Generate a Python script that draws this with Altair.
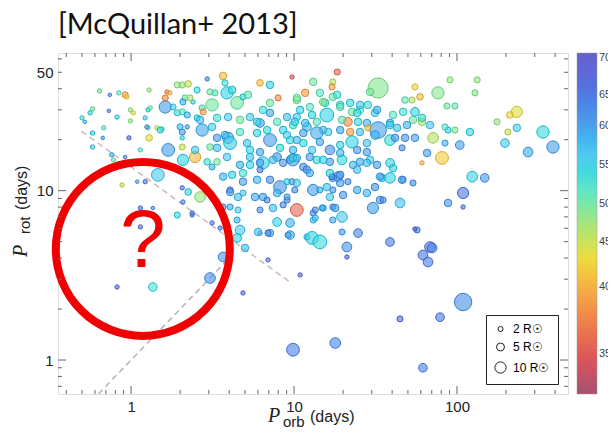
import altair as alt
import numpy as np
import pandas as pd

# ---------------- data ----------------
porb = [
    0.64, 0.74, 0.84, 0.92, 0.94, 0.58, 0.56, 0.50, 0.52, 0.73,
    0.82, 0.99, 1.03, 0.68, 0.58, 0.58, 0.67, 0.99, 0.97, 1.14,
    1.29, 1.27, 1.27, 1.44, 1.55, 1.29, 0.76, 0.78, 0.92, 1.01,
    1.92, 2.24, 1.66, 1.73, 2.14, 2.40, 1.62, 1.81, 2.06, 2.21,
    2.54, 2.73, 2.77, 3.14, 3.67, 3.77, 3.88, 4.47, 3.27, 3.05,
    2.54, 2.21, 2.06, 2.73, 2.65, 2.06, 1.69, 2.06, 2.47, 2.08,
    3.05, 3.37, 3.94, 2.93, 3.14, 1.46, 1.22, 1.09, 0.88, 2.24,
    2.65, 1.92, 2.37, 3.14, 1.14, 1.36, 3.67, 4.86, 5.37, 6.18,
    7.12, 7.98, 7.12, 6.45, 6.18, 7.12, 8.57, 9.72, 10.4, 10.4,
    12.0, 5.37, 6.45, 7.87, 9.45, 11.4, 4.86, 6.18, 8.2, 5.93,
    4.05, 4.53, 6.45, 9.06, 10.4, 7.87, 9.45, 6.18, 7.12, 9.45,
    12.0, 4.66, 4.47, 4.05, 4.53, 3.62, 18.4, 13.1, 17.3, 17.1,
    32.8, 29.3, 11.7, 10.4, 14.4, 17.3, 15.5, 55.2, 59.3, 76.4,
    90.6, 133, 129, 48.0, 53.0, 86.8, 97.2, 176, 233, 211,
    205, 233, 337, 388, 273, 197, 120, 104, 88.1, 97.2,
    71.3, 65.5, 80.9, 61.0, 53.7, 61.0, 55.2, 46.7, 40.5, 38.8,
    42.9, 32.8, 31.4, 38.8, 48.0, 55.2, 46.0, 40.5, 46.7, 53.7,
    34.7, 29.3, 28.0, 24.4, 22.7, 19.7, 23.0, 25.4, 18.6, 17.3,
    21.4, 19.7, 24.7, 28.0, 22.7, 25.4, 19.2, 22.1, 28.4, 31.4,
    15.9, 13.8, 12.9, 15.1, 13.8, 11.4, 9.45, 9.86, 9.86, 9.86,
    12.9, 13.8, 12.0, 16.6, 16.6, 19.2, 13.1, 10.1, 9.06, 17.1,
    17.3, 14.4, 16.6, 30.5, 33.7, 44.7, 31.4, 24.4, 88.1, 109,
    109, 124, 148, 13.1, 15.1, 17.3, 13.1, 19.7, 17.3, 12.9,
    14.4, 19.7, 24.7, 21.1, 38.8, 56.9, 68.3, 9.86, 17.9, 61.8,
    109, 78.7, 44.7, 10.9, 21.1, 61.8, 70.3, 66.4, 55.2,
    0.82, 1.36, 3.05, 3.67, 4.86, 6.92, 5.0, 4.47, 1.14,
    1.62, 2.06, 2.93, 4.17, 5.22, 1.92, 2.08, 2.30, 3.37, 3.94,
    4.66, 5.93, 7.12, 7.87, 9.06, 10.1, 3.14, 3.77, 4.05, 5.15,
    4.66, 5.93, 6.83, 9.06, 10.4, 2.0, 2.47, 3.37, 5.37, 6.18,
    8.2, 1.22, 1.31, 1.25, 1.51, 18.4, 15.1, 19.2, 25.4, 32.3,
    24.4, 12.5, 10.9, 11.7, 16.2, 19.2, 22.1, 25.4, 28.4, 38.8,
    61.0, 68.3, 49.3, 41.7, 28.0, 19.2, 14.4, 11.4, 84.4, 84.4,
    2.06, 2.08, 2.37, 3.52, 3.37, 3.88, 4.66, 5.37, 6.18, 7.43,
    8.57, 9.86, 3.67, 4.17, 4.86, 7.12, 9.72, 4.05, 4.86, 5.76,
    6.83, 7.87, 9.06, 6.18, 7.43, 8.57, 6.01, 6.92, 9.19, 10.4,
    12.5, 15.1, 28.0, 32.3, 38.8, 12.5, 16.6, 19.2, 24.4, 33.7,
    38.8, 46.0, 10.4, 15.9, 19.2, 21.4, 20.0, 28.0, 35.2, 13.5,
    14.9, 17.9, 13.5,
]
prot = [
    38.8, 36.8, 37.8, 36.8, 35.8, 30.4, 28.8, 26.9, 25.5, 29.6,
    27.2, 30.0, 28.8, 23.5, 21.9, 18.1, 20.5, 25.8, 20.5, 17.4,
    39.3, 30.0, 23.5, 23.5, 23.1, 20.5, 16.3, 15.2, 15.8, 14.2,
    42.1, 42.7, 38.3, 37.8, 35.3, 33.4, 31.2, 31.2, 29.2, 28.0,
    26.9, 30.8, 29.2, 32.1, 47.6, 43.3, 37.8, 33.0, 37.8, 38.3,
    39.3, 23.8, 22.2, 22.8, 26.2, 20.5, 17.4, 18.1, 15.8, 15.2,
    18.1, 20.5, 20.5, 14.8, 13.8, 12.4, 11.3, 11.3, 10.8, 9.83,
    9.18, 7.18, 7.18, 6.45, 7.90, 7.90, 8.01, 35.8, 27.2, 43.3,
    42.1, 35.3, 33.0, 30.0, 25.1, 19.9, 22.8, 46.9, 34.3, 27.2,
    23.8, 15.8, 14.6, 15.8, 15.2, 13.8, 12.7, 13.3, 10.5, 11.6,
    10.1, 9.18, 9.18, 8.81, 7.69, 6.53, 6.45, 5.62, 5.62, 5.47,
    5.33, 5.86, 6.71, 8.01, 7.69, 7.69, 50.2, 43.9, 43.9, 41.0,
    40.4, 38.3, 37.8, 35.3, 37.8, 35.8, 33.0, 41.0, 35.8, 37.8,
    45.1, 45.1, 37.8, 34.3, 34.3, 31.6, 31.6, 25.5, 29.2, 28.0,
    22.2, 23.5, 22.2, 18.1, 16.9, 19.1, 22.2, 18.6, 22.8, 22.8,
    20.5, 16.7, 15.6, 14.6, 26.2, 25.5, 29.2, 29.2, 28.0, 25.1,
    23.5, 22.8, 21.3, 19.9, 20.5, 20.5, 17.9, 13.6, 11.6, 11.1,
    11.9, 15.2, 16.9, 17.4, 19.4, 15.2, 14.2, 14.8, 12.1, 11.9,
    25.5, 26.2, 25.5, 25.1, 29.2, 30.0, 32.1, 33.0, 32.1, 28.8,
    28.0, 25.5, 28.0, 22.8, 21.9, 21.9, 19.9, 24.4, 17.4, 15.2,
    17.4, 15.2, 13.3, 17.4, 14.8, 16.7, 10.1, 10.1, 11.3, 12.1,
    10.1, 10.1, 9.18, 7.90, 8.81, 8.46, 10.5, 10.1, 8.46, 9.69,
    8.01, 12.1, 11.9, 7.38, 7.90, 8.01, 6.71, 7.0, 6.71, 5.26,
    4.98, 5.70, 5.62, 4.65, 4.98, 5.86, 4.65, 1.15, 1.26, 0.90,
    2.20, 1.79, 1.75, 3.18, 4.06, 4.17, 4.59, 3.79, 5.94,
    2.70, 2.70, 3.05, 4.06, 2.49, 3.90, 4.59, 5.26, 6.11,
    35.3, 42.1, 45.7, 39.3, 36.8, 28.8, 33.4, 35.3, 26.9, 27.2,
    26.2, 25.5, 28.8, 25.5, 27.2, 25.5, 23.8, 21.3, 19.1, 19.1,
    22.2, 21.9, 22.8, 21.3, 19.9, 23.8, 17.4, 17.9, 17.4, 16.9,
    17.9, 26.9, 30.8, 23.8, 22.8, 36.8, 33.4, 31.2, 32.1, 30.0,
    28.8, 31.2, 30.0, 25.1, 22.2, 22.8, 22.2, 22.2, 23.5, 24.4,
    26.9, 24.4, 24.4, 20.5, 19.1, 18.6, 19.4, 19.1, 19.1, 23.8,
    10.4, 8.58, 7.38, 6.02, 14.8, 15.8, 14.2, 14.2, 14.6, 15.2,
    14.6, 15.6, 12.1, 12.4, 11.3, 11.6, 11.3, 9.83, 9.69, 9.18,
    8.81, 9.69, 9.18, 7.69, 7.90, 8.24, 5.70, 5.62, 5.47, 15.6,
    15.8, 15.2, 14.6, 14.2, 14.6, 12.7, 12.7, 12.4, 13.3, 12.1,
    11.9, 11.6, 11.1, 10.5, 11.1, 11.3, 9.43, 9.69, 8.81, 7.69,
    7.90, 7.90, 6.90,
]
radius = [
    1.5, 1, 1.5, 3, 1.5, 1.5, 1.5, 1.5, 1, 1,
    1.5, 1.5, 1.5, 1.5, 1.5, 1.5, 1, 1.5, 1.5, 1.5,
    1.5, 1.5, 1.5, 1.5, 1.5, 3.5, 1.5, 1.5, 1, 1,
    3, 3.5, 1.5, 1.5, 3, 1.5, 12, 3, 3, 3,
    3, 3, 3, 12, 4.5, 3, 12, 13, 3, 3,
    3, 1.5, 3, 12, 4.5, 1.5, 13, 3, 10, 10,
    3.5, 4.5, 10, 3.5, 3, 13, 1.5, 1, 1.5, 3.5,
    9, 3, 1.5, 1.5, 1.5, 1, 3, 3, 4.5, 3.5,
    4.5, 3, 4.5, 4.5, 6, 13, 4.5, 1.5, 4.5, 4.5,
    6, 4.5, 12, 6, 4.5, 4.5, 4.5, 3, 13, 4.5,
    3, 4.5, 4.5, 3, 13, 6, 6, 1.5, 4.5, 6,
    3, 7.5, 3, 3, 3, 1.5, 3, 4.5, 3, 3,
    32, 4.5, 4.5, 4.5, 4.5, 4.5, 4.5, 3, 3.5, 12,
    3, 3, 3, 3.5, 3, 3, 3, 3, 10, 3.5,
    3, 4.5, 12, 12, 7.5, 6, 4.5, 6, 3, 3,
    9, 4.5, 13, 1.5, 4.5, 4.5, 6, 4.5, 4.5, 4.5,
    4.5, 22, 6, 9, 4.5, 4.5, 3, 4.5, 3, 3,
    4.5, 4.5, 4.5, 4.5, 12, 7.5, 4.5, 4.5, 7.5, 4.5,
    6, 4.5, 4.5, 4.5, 4.5, 4.5, 4.5, 4.5, 4.5, 4.5,
    15, 4.5, 4.5, 4.5, 12, 4.5, 4.5, 4.5, 4.5, 12,
    4.5, 4.5, 4.5, 7.5, 4.5, 4.5, 10, 3, 3, 3,
    3, 3, 4.5, 10, 4.5, 7.5, 4.5, 4.5, 4.5, 10,
    1.5, 9, 6, 3, 3, 3, 3, 9, 3, 13,
    15, 3, 6, 7.5, 6, 3, 9, 13, 9, 6,
    24, 6, 3, 1.5, 1.5, 7.5, 7.5, 7.5, 1.5,
    1.5, 6, 9, 7.5, 1.5, 1.5, 4.5, 6, 1.5,
    3, 3, 1.5, 4.5, 4.5, 3, 3, 3, 4.5, 4.5,
    4.5, 4.5, 4.5, 4.5, 4.5, 4.5, 4.5, 4.5, 13, 4.5,
    4.5, 4.5, 4.5, 4.5, 4.5, 3, 4.5, 4.5, 4.5, 4.5,
    4.5, 1.5, 1.5, 1.5, 3, 4.5, 4.5, 4.5, 4.5, 4.5,
    4.5, 4.5, 4.5, 4.5, 4.5, 4.5, 4.5, 4.5, 3, 4.5,
    4.5, 4.5, 4.5, 4.5, 4.5, 4.5, 4.5, 4.5, 3, 3,
    1.5, 1.5, 1.5, 1.5, 3.5, 4.5, 4.5, 4.5, 4.5, 4.5,
    4.5, 4.5, 4.5, 4.5, 4.5, 4.5, 3, 4.5, 3, 4.5,
    3, 4.5, 3, 3, 4.5, 3, 4.5, 3, 3, 4.5,
    4.5, 4.5, 4.5, 4.5, 6, 4.5, 4.5, 4.5, 4.5, 4.5,
    9, 4.5, 4.5, 4.5, 4.5, 3, 4.5, 4.5, 3, 3,
    3, 4.5, 3,
]
teff = [
    5000, 6300, 5200, 3900, 4300, 5000, 5400, 5300, 5800, 6400,
    5500, 4800, 4400, 5200, 5500, 5600, 6000, 4800, 6700, 5200,
    4800, 5500, 4800, 4500, 5000, 4400, 5800, 5000, 6300, 5700,
    4800, 4500, 3800, 4000, 5000, 5500, 6000, 5600, 5200, 5800,
    5400, 5200, 3900, 5000, 4100, 5300, 5500, 5000, 5200, 5000,
    5400, 6000, 6100, 5900, 5700, 5400, 6000, 4500, 4100, 5500,
    5000, 6000, 6000, 5300, 5800, 5600, 6500, 6000, 4500, 5400,
    4800, 5400, 6300, 6500, 6500, 6300, 6200, 5400, 5600, 4100,
    5500, 3800, 5000, 5300, 6000, 6000, 5500, 3500, 4900, 5600,
    5800, 5700, 5500, 6100, 5900, 6200, 5300, 6400, 6100, 5800,
    6200, 5700, 6000, 6300, 3600, 5500, 5800, 6500, 6000, 5900,
    5600, 5600, 5800, 5900, 5600, 6300, 3600, 5000, 4600, 3900,
    4900, 5000, 3900, 5000, 5200, 5000, 5400, 4300, 4100, 4900,
    4800, 4800, 4900, 5100, 4600, 5000, 5100, 4800, 4400, 4300,
    4500, 5600, 5400, 6000, 5900, 5600, 5400, 6000, 5500, 4900,
    4600, 6000, 4200, 4000, 5000, 4700, 5500, 5300, 5200, 5900,
    5700, 6000, 5800, 5400, 6100, 6000, 6200, 5500, 5800, 6200,
    5500, 5500, 6000, 6100, 5500, 5400, 5800, 5900, 6200, 6000,
    3800, 5100, 5400, 5800, 5000, 5200, 5400, 5500, 5300, 5600,
    5500, 5200, 5500, 5700, 5900, 6000, 5400, 5300, 5800, 6000,
    5600, 5400, 6200, 6200, 6000, 5800, 6000, 6200, 5500, 6400,
    6100, 5800, 5600, 6000, 6100, 5700, 6200, 5900, 6100, 6500,
    6500, 5500, 6100, 6300, 5800, 6200, 5700, 5600, 5900, 5500,
    5400, 6000, 6300, 6100, 6400, 6400, 6500, 6400, 6300, 6400,
    6200, 6500, 6700, 6600, 6600, 6500, 6400, 6400, 6600,
    6600, 5300, 6200, 6100, 6600, 6600, 5700, 5500, 6600,
    3800, 4800, 6300, 5400, 5100, 5300, 5800, 4700, 5300, 5600,
    5000, 5500, 5900, 5200, 5700, 5500, 5600, 5800, 5500, 5700,
    5200, 5500, 5400, 5600, 5800, 5800, 5600, 5700, 5500, 5900,
    5400, 5600, 5000, 6000, 5400, 5300, 4900, 5100, 5600, 5800,
    5400, 5200, 5500, 5700, 5600, 5900, 3900, 5700, 4100, 5500,
    5300, 5600, 5800, 6100, 5700, 5500, 5900, 5400, 5800, 5200,
    6500, 6300, 6500, 6500, 5000, 5600, 5800, 5500, 6000, 5700,
    6100, 5500, 5800, 5500, 6000, 6200, 6000, 6100, 5600, 5900,
    6300, 5800, 6000, 6200, 5700, 6300, 5600, 6200, 6000, 5700,
    6000, 5500, 5700, 6000, 5500, 5900, 5500, 6100, 5700, 6000,
    5500, 6100, 5600, 5700, 6000, 6200, 6100, 5800, 6300, 6200,
    5900, 6000, 5700,
]
assert len(porb) == len(prot) == len(radius) == len(teff)

# colour bar: Teff labels and where they sit along the bar (0 = bottom, 1 = top)
cbar_teff = [3200, 3500, 4000, 4500, 5000, 5500, 6000, 6500, 7000, 7070]
cbar_pos = [0.0, 0.117, 0.313, 0.447, 0.556, 0.673, 0.787, 0.877, 0.985, 1.0]
label_teff = [3500, 4000, 4500, 5000, 5500, 6000, 6500, 7000]
cbar_stops = [0.0, 0.1, 0.2, 0.3, 0.4, 0.5, 0.6, 0.7, 0.8, 0.9, 1.0]
cbar_colors = ["#a4526e", "#d9555a", "#ee7b4c", "#f3aa45", "#eedc3e", "#a6e57c",
               "#5fe6c6", "#4fcaf0", "#4d9aea", "#5670e0", "#6660cc"]
edge_stops = [-0.001, 0.1, 0.2, 0.3, 0.4, 0.5, 0.6, 0.7, 0.8, 0.9, 1.001]
edge_colors = ["#8a3e58", "#b83e45", "#cc5e32", "#d08a2a", "#c8b420", "#7ec254",
               "#3cc0a0", "#2aa4cc", "#2f78c8", "#3a52c0", "#4a44a8"]

size_values = [2, 5, 10]

# guide lines
sync_porb = [0.63, 3.9]
sync_prot = [0.63, 3.9]
tide_porb = [0.495, 9.46]
tide_prot = [22.5, 2.88]

# axis ticks
x_labels = [1, 10, 100]
y_labels = [1, 10, 50]
x_major = [1, 10, 100]
x_minor = [0.4, 0.5, 0.6, 0.7, 0.8, 0.9, 2, 3, 4, 5, 6, 7, 8, 9,
           20, 30, 40, 50, 60, 70, 80, 90, 200, 300, 400]
y_major = [1, 10]
y_minor = [0.7, 0.8, 0.9, 2, 3, 4, 5, 6, 7, 8, 9, 20, 30, 40, 50, 60]

# annotation
ring_porb = [1.18]
ring_prot = [4.53]
q_porb = [1.18]
q_prot = [5.0]

# ---------------- chart ----------------
W, H = 510, 341
FONT = "Liberation Sans"

stars = pd.DataFrame({"porb": porb, "prot": prot, "radius": radius, "teff": teff})
stars["cpos"] = np.interp(stars["teff"], cbar_teff, cbar_pos)
stars["cedge"] = stars["cpos"]
label_pos = [float(v) for v in np.interp(label_teff, cbar_teff, cbar_pos)]
expr = " : ".join(f"abs(datum.value - {p:.4f}) < 0.005 ? '{t}'" for p, t in zip(label_pos, label_teff)) + " : ''"

xs = alt.Scale(type="log", domain=[0.356, 480], nice=False)
ys = alt.Scale(type="log", domain=[0.63, 65], nice=False)
xaxis = alt.Axis(values=x_labels, format="~g", title=None, domain=False, ticks=False, grid=False,
                 labelFontSize=15, labelFont=FONT, labelColor="#222", labelPadding=5)
yaxis = alt.Axis(values=y_labels, format="~g", title=None, domain=False, ticks=False, grid=False,
                 labelFontSize=15, labelFont=FONT, labelColor="#222", labelPadding=5)
cscale = alt.Scale(domain=cbar_stops, range=cbar_colors)
escale = alt.Scale(domain=edge_stops, range=edge_colors)

X = lambda f: alt.X(f, scale=xs, axis=xaxis)
Y = lambda f: alt.Y(f, scale=ys, axis=yaxis)

sync = alt.Chart(pd.DataFrame({"porb": sync_porb, "prot": sync_prot})).mark_line(
    color="#b4b4b4", strokeDash=[6, 4], strokeWidth=1.5).encode(x=X("porb:Q"), y=Y("prot:Q"))
tide = alt.Chart(pd.DataFrame({"porb": tide_porb, "prot": tide_prot})).mark_line(
    color="#cdb6c8", strokeDash=[6, 4], strokeWidth=1.5).encode(x=X("porb:Q"), y=Y("prot:Q"))

points = alt.Chart(stars).mark_circle(fillOpacity=0.62, strokeOpacity=0.9, strokeWidth=1).encode(
    x=X("porb:Q"),
    y=Y("prot:Q"),
    size=alt.Size("radius:Q", scale=alt.Scale(domain=[0, 10], range=[0, 126]),
                  legend=alt.Legend(values=size_values, orient="bottom-right", offset=10,
                                    title=None, strokeColor="#222", fillColor="white",
                                    padding=8, labelFontSize=12, labelFont=FONT,
                                    labelExpr="datum.label + ' R☉'", symbolType="circle",
                                    symbolStrokeColor="#222", symbolFillColor="white",
                                    symbolStrokeWidth=1, symbolOpacity=1, rowPadding=6,
                                    labelOffset=6)),
    fill=alt.Fill("cpos:Q", scale=cscale,
                  legend=alt.Legend(type="gradient", orient="right", offset=9, title=None,
                                    gradientLength=H, gradientThickness=20, values=label_pos,
                                    labelExpr=expr, labelFontSize=11, labelFont=FONT,
                                    labelColor="#444", labelOverlap=False, labelOffset=2,
                                    gradientStrokeColor="#999", gradientStrokeWidth=0.5,
                                    padding=0)),
    stroke=alt.Stroke("cedge:Q", scale=escale, legend=None),
)

ring = alt.Chart(pd.DataFrame({"porb": ring_porb, "prot": ring_prot})).mark_point(
    shape="circle", size=30276, strokeWidth=8, color="#f00000", filled=False, opacity=1
).encode(x=X("porb:Q"), y=Y("prot:Q"))
qmark = alt.Chart(pd.DataFrame({"porb": q_porb, "prot": q_prot, "t": ["?"]})).mark_text(
    fontSize=82, color="#f00000", font=FONT, baseline="middle", align="center"
).encode(x=X("porb:Q"), y=Y("prot:Q"), text="t:N")


def xticks(vals, L):
    base = alt.Chart(pd.DataFrame({"v": vals})).mark_rule(color="#666", strokeWidth=1)
    return [base.encode(x=X("v:Q"), y=alt.value(H), y2=alt.value(H - L)),
            base.encode(x=X("v:Q"), y=alt.value(0), y2=alt.value(L))]


def yticks(vals, L):
    base = alt.Chart(pd.DataFrame({"v": vals})).mark_rule(color="#666", strokeWidth=1)
    return [base.encode(y=Y("v:Q"), x=alt.value(0), x2=alt.value(L)),
            base.encode(y=Y("v:Q"), x=alt.value(W), x2=alt.value(W - L))]


def label(txt, x, y, size, font, style="normal", angle=0, color="#222"):
    return alt.Chart(pd.DataFrame({"t": [txt]})).mark_text(
        align="left", baseline="alphabetic", fontSize=size, font=font,
        fontStyle=style, angle=angle, color=color
    ).encode(x=alt.value(x), y=alt.value(y), text="t:N")


titles = [
    label("[McQuillan+ 2013]", 0, -19, 29, "Lato", color="#111"),
    label("P", 210, 369, 20, "Liberation Serif", "italic"),
    label("orb", 225, 374, 15, FONT),
    label("(days)", 252, 369, 16, FONT),
    label("P", -31, 204, 20, "Liberation Serif", "italic", 270),
    label("rot", -28, 181, 15, FONT, angle=270),
    label("(days)", -31, 157, 16, FONT, angle=270),
]

layers = [sync, tide, points, ring, qmark] + xticks(x_major, 8) + xticks(x_minor, 4) \
    + yticks(y_major, 8) + yticks(y_minor, 4) + titles

chart = alt.layer(*layers).properties(
    width=W, height=H,
    padding={"left": 50, "top": 45, "right": 40, "bottom": 34},
    autosize=alt.AutoSizeParams(type="none"),
).configure_view(stroke="#707070", strokeWidth=1.5).configure(font=FONT)

chart.save("out.html", embed_options={"renderer": "svg", "actions": False})
